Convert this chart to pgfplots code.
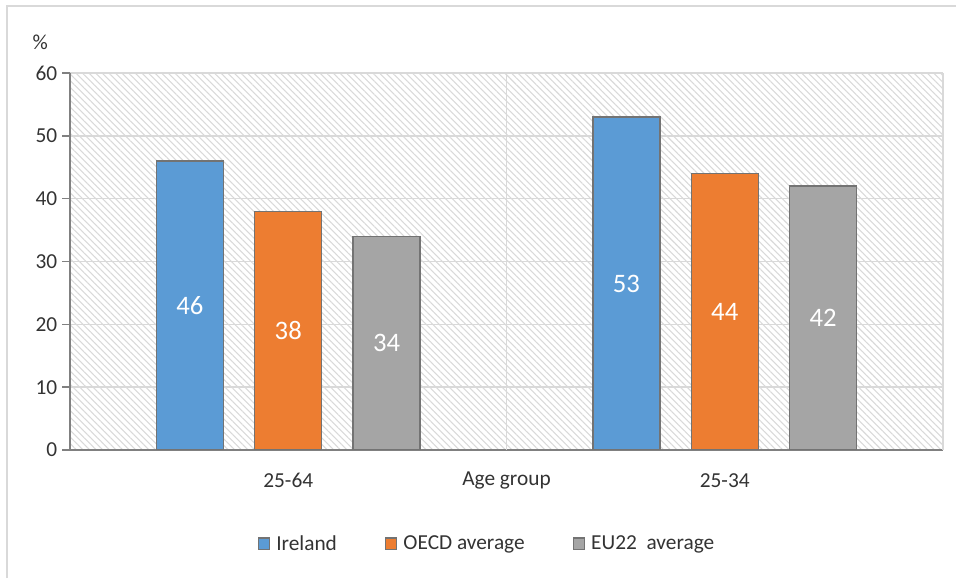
\documentclass[border=0pt]{standalone}
\usepackage{pgfplots}
\pgfplotsset{compat=1.18}
\usepackage{fontspec}
\setmainfont{Carlito}
\usetikzlibrary{patterns.meta}
\definecolor{cblue}{HTML}{5B9BD5}
\definecolor{corange}{HTML}{ED7D31}
\definecolor{cgray}{HTML}{A5A5A5}
\definecolor{txt}{HTML}{333333}
\definecolor{gridc}{HTML}{D9D9D9}
\definecolor{axc}{HTML}{808080}
\begin{document}
\begin{tikzpicture}
\path[use as bounding box] (0,0) rectangle (717pt,433.5pt);
\draw[gridc,line width=1.5pt] (5.6pt,0) -- (5.6pt,429pt) -- (717pt,429pt);
\begin{axis}[
  at={(52.5pt,96pt)}, anchor=south west,
  scale only axis, width=654.75pt, height=282.75pt,
  ybar=23.6pt, bar width=50.25pt,
  xmin=-0.5, xmax=1.5, ymin=0, ymax=60,
  xtick={0,1}, xticklabels={25-64,25-34},
  ytick={0,10,...,60},
  extra x ticks={0.5,1.5}, extra x tick labels={},
  extra x tick style={grid=major, major tick length=0pt},
  axis lines=left, axis line style={-, draw=axc, line width=1.3pt},
  ymajorgrids, major grid style={draw=gridc, line width=1.1pt},
  tick align=outside,
  xtick style={draw=none},
  ytick style={draw=axc, line width=1.1pt},
  major tick length=6pt,
  axis background/.style={pattern={Lines[angle=-45,distance=3.5pt,line width=0.8pt]}, pattern color=gridc},
  font=\fontsize{16}{19}\selectfont,
  tick label style={text=txt, font=\fontsize{16}{19}\selectfont},
  /pgf/number format/assume math mode=true,
  xticklabel style={yshift=-8pt},
  xlabel={Age group},
  every axis x label/.style={at={(axis description cs:0.5,0)}, anchor=north, yshift=-13pt, text=txt, font=\fontsize{16}{19}\selectfont},
  ylabel={\%},
  every axis y label/.style={at={(axis description cs:-0.034,1.082)}, anchor=center, text=txt, font=\fontsize{16}{19}\selectfont},
  visualization depends on=y \as \rawy,
  nodes near coords={\pgfmathprintnumber{\rawy}},
  every node near coord/.append style={anchor=center, text=white, font=\fontsize{20}{22}\selectfont, shift={(axis direction cs:0,-\rawy/2)}},
  legend columns=3,
  legend style={draw=none, fill=none, at={(axis description cs:0.478,-0.249)}, anchor=center,
    font=\fontsize{16}{19}\selectfont, text=txt,
    /tikz/every odd column/.append style={column sep=2.5pt},
    /tikz/every even column/.append style={column sep=34pt}},
  legend image code/.code={\draw[#1, line width=0.8pt] (0pt,-4.4pt) rectangle (8.6pt,4.4pt);},
]
\addplot[fill=cblue, draw=black!55, line width=1.1pt] coordinates {(0,46) (1,53)};
\addplot[fill=corange, draw=black!55, line width=1.1pt] coordinates {(0,38) (1,44)};
\addplot[fill=cgray, draw=black!55, line width=1.1pt] coordinates {(0,34) (1,42)};
\legend{Ireland, OECD average, EU22\ \ average}
\end{axis}
\end{tikzpicture}
\end{document}
